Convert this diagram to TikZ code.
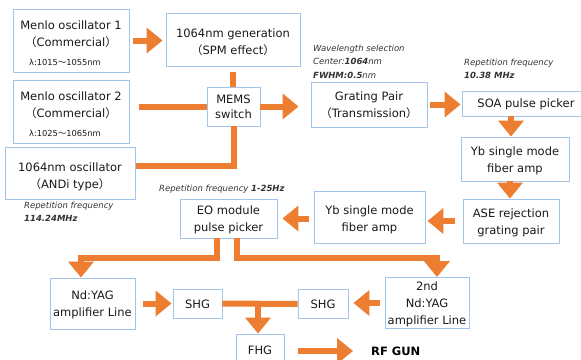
\documentclass[tikz,border=0pt]{standalone}
\usepackage{fontspec}
\setmainfont{DejaVu Sans}
\newfontfamily\cjk{Noto Sans CJK JP}
\usetikzlibrary{arrows.meta}
\definecolor{flowc}{HTML}{ED7D31}
\definecolor{boxc}{HTML}{A2C4E8}
\newcommand\Lpa{{\cjk\smash{（}}}
\newcommand\Rpa{{\cjk\smash{）}}}
\newcommand\Tld{{\cjk\smash{～}}}
\newcommand\smalltxt{\fontsize{8.3}{9}\selectfont}
\newcommand\Txt[2][-2pt]{\raisebox{#1}[\height][\depth]{\begin{tabular}{@{}c@{}}#2\end{tabular}}}
\begin{document}
\begin{tikzpicture}[x=1pt,y=-1pt,
  box/.style={draw=boxc,line width=0.9pt,fill=white,inner sep=0pt,
    text=black!90,font=\fontsize{11.5}{17}\selectfont},
  pipe/.style={draw=flowc,line width=6pt},
  flow/.style={pipe,-{Triangle[length=16pt,width=25pt]}},
  note/.style={anchor=north west,inner sep=0pt,align=left,text=black!80,
    font=\fontsize{8.5}{13.5}\selectfont\itshape}]
\useasboundingbox (0,0) rectangle (581,359);
% boxes
\node[box,minimum width=116pt,minimum height=63pt] (m1) at (71,40.5)
  {\Txt[-4pt]{Menlo oscillator 1\\\Lpa Commercial\Rpa\\[2pt]{\smalltxt λ:1015\Tld 1055nm\hspace*{12pt}}}};
\node[box,minimum width=134pt,minimum height=53pt] (gen) at (233,39.5)
  {\Txt[-3.5pt]{1064nm generation\\\Lpa SPM effect\Rpa}};
\node[box,minimum width=116pt,minimum height=63pt] (m2) at (71,111.5)
  {\Txt[-4pt]{Menlo oscillator 2\\\Lpa Commercial\Rpa\\[2pt]{\smalltxt λ:1025\Tld 1065nm\hspace*{12pt}}}};
\node[box,minimum width=130pt,minimum height=52pt] (osc) at (70,173)
  {\Txt[-4pt]{1064nm oscillator\\\Lpa ANDi type\Rpa}};
\node[box,minimum width=53pt,minimum height=39pt,font=\fontsize{11.5}{15}\selectfont] (mems) at (233.5,106.5)
  {\Txt[-1.5pt]{MEMS\\switch}};
\node[box,minimum width=116pt,minimum height=45pt] (grat) at (369,104.5)
  {\Txt[-1.5pt]{Grating Pair\\\Lpa Transmission\Rpa}};
\node[box,minimum width=128pt,minimum height=25pt] (soa) at (526,103.5)
  {\Txt[-0.5pt]{SOA pulse picker}};
\node[box,minimum width=108pt,minimum height=44pt] (ybr) at (515,159)
  {\Txt{Yb single mode\\fiber amp}};
\node[box,minimum width=96pt,minimum height=44pt] (ase) at (511,221)
  {\Txt[-1.5pt]{ASE rejection\\grating pair}};
\node[box,minimum width=111pt,minimum height=52pt] (ybm) at (369.5,217)
  {\Txt[-2.5pt]{Yb single mode\\fiber amp}};
\node[box,minimum width=97pt,minimum height=39pt] (eo) at (228.5,218.5)
  {\Txt[-1pt]{EO module\\pulse picker}};
\node[box,minimum width=85pt,minimum height=51pt] (nd1) at (92.5,303.5)
  {\Txt[-1pt]{Nd:YAG\\amplifier Line}};
\node[box,minimum width=49pt,minimum height=29pt] (shg1) at (197.5,303.5) {\Txt[-1.5pt]{SHG}};
\node[box,minimum width=50pt,minimum height=29pt] (shg2) at (323,304) {\Txt[-1.5pt]{SHG}};
\node[box,minimum width=84pt,minimum height=50pt] (nd2) at (427,303)
  {\Txt[-1pt]{2nd\\Nd:YAG\\amplifier Line}};
\node[box,minimum width=48pt,minimum height=34pt] (fhg) at (260,351) {\Txt[0pt]{FHG}};
\node[anchor=west,inner sep=0pt,font=\fontsize{11.5}{14}\selectfont\bfseries] (rf) at (371,351) {RF GUN};
% notes
\node[note] (n1) at (313,44.5) {Wavelength selection\\Center:\textbf{1064}nm\\\textbf{FWHM:0.5}nm};
\node[note] (n2) at (464,58.5) {Repetition frequency\\\textbf{10.38 MHz}};
\node[note] (n3) at (24,201.5) {Repetition frequency\\\textbf{114.24MHz}};
\node[note] (n4) at (159,184.5) {Repetition frequency \textbf{1-25Hz}};
% connectors
\draw[flow,shorten <=4pt,shorten >=3pt] (m1) -- (m1 -| gen.west);
\draw[pipe,shorten <=6pt] (gen.south) -- (gen.south |- mems.north);
\draw[pipe,shorten <=10pt] (mems.west -| m2.east) -- (mems.west);
\draw[pipe,shorten >=1pt] (mems.south) |- ([yshift=7pt]osc.east);
\draw[flow,shorten >=12pt] (mems) -- (mems -| grat.west);
\draw[flow,shorten <=3pt,shorten >=1pt] (grat) -- (grat -| soa.west);
\draw[flow] ([xshift=-4pt]ybr.north |- soa.south) -- ([xshift=-4pt]ybr.north);
\draw[flow] ([xshift=-5pt]ybr.south) -- ([xshift=-5pt]ybr.south |- ase.north);
\draw[flow,shorten <=8pt,shorten >=2pt] (ase) -- (ase -| ybm.east);
\draw[flow,shorten <=5pt,shorten >=5pt] (eo.east -| ybm.west) -- (eo.east);
\draw[flow] ([xshift=-11.5pt]eo.south) -- ++(0,20) -| ([xshift=-11.5pt]nd1.north);
\draw[flow] ([xshift=8.5pt]eo.south) -- ++(0,20) -| ([xshift=10pt]nd2.north);
\draw[flow,shorten <=8pt,shorten >=1pt] (nd1) -- (nd1 -| shg1.west);
\draw[pipe] (shg1) -- (shg2);
\draw[flow] ([xshift=-2pt]fhg.north |- shg1.east) -- ([xshift=-2pt]fhg.north);
\draw[flow,shorten <=5pt,shorten >=5pt] (nd2) -- (nd2 -| shg2.east);
\draw[flow,shorten <=14pt,shorten >=18pt] (fhg) -- (rf);
\end{tikzpicture}
\end{document}
